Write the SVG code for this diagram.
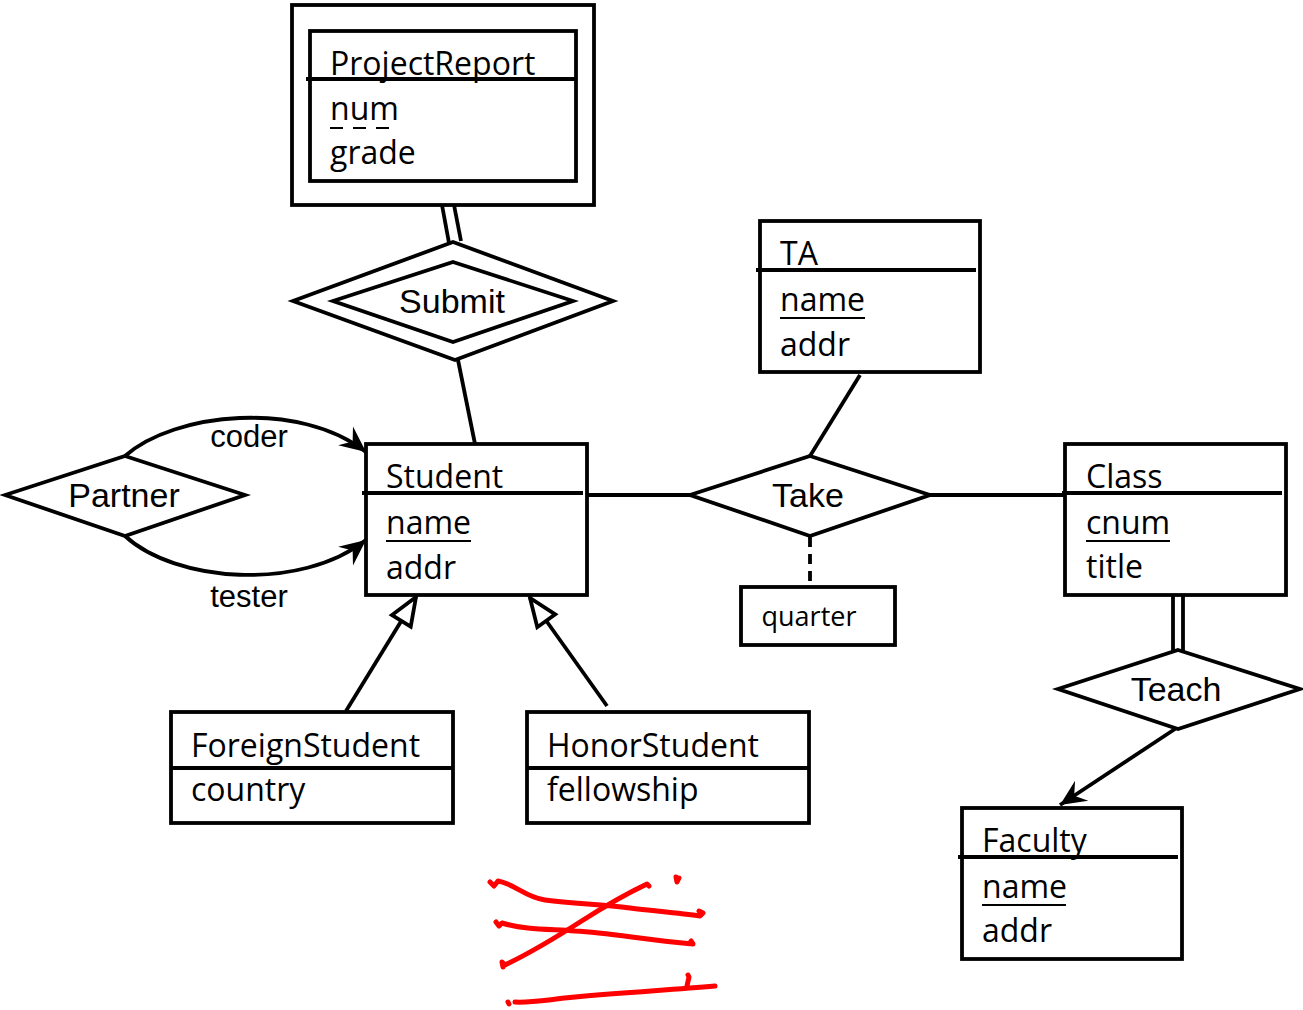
<svg xmlns="http://www.w3.org/2000/svg" width="1303" height="1010" viewBox="0 0 1303 1010">
<style>
.box{fill:none;stroke:#000;stroke-width:3.8}
.hdr{stroke:#000;stroke-width:3.8}
.ln{fill:none;stroke:#000;stroke-width:3.8}
.dia{fill:#fff;stroke:#000;stroke-width:3.8;stroke-linejoin:miter}
.et{font-family:"Open Sans","Noto Sans",sans-serif;font-size:32px;fill:#000}
.rt{font-family:"Liberation Sans",Arial,sans-serif;font-size:34px;fill:#000;text-anchor:middle}
.lt{font-family:"Liberation Sans",Arial,sans-serif;font-size:31px;fill:#000;text-anchor:middle}
.ul{stroke:#000;stroke-width:2}
.red{fill:none;stroke:#f00;stroke-width:5;stroke-linecap:round;stroke-linejoin:round}
</style>
<defs>
<marker id="arr" viewBox="-28 -14 30 28" refX="0" refY="0" markerWidth="30" markerHeight="28" markerUnits="userSpaceOnUse" orient="auto">
<path d="M0,0 L-26,-12 L-17,0 L-26,12 Z" fill="#000"/>
</marker>
<marker id="tri" viewBox="-32 -14 34 28" refX="0" refY="0" markerWidth="34" markerHeight="28" markerUnits="userSpaceOnUse" orient="auto">
<path d="M0,0 L-28,-11 L-28,11 Z" fill="#fff" stroke="#000" stroke-width="3.8" stroke-linejoin="miter"/>
</marker>
</defs>
<rect width="1303" height="1010" fill="#fff"/>

<g id="connectors">
<line class="ln" x1="442" y1="205" x2="449" y2="243"/>
<line class="ln" x1="454" y1="205" x2="461" y2="241"/>
<line class="ln" x1="458" y1="360" x2="475" y2="444"/>
<path class="ln" d="M125,456 C175,412 300,400 366,452" marker-end="url(#arr)"/>
<path class="ln" d="M125,536 C175,582 300,592 366,540" marker-end="url(#arr)"/>
<line class="ln" x1="587" y1="495" x2="690" y2="495"/>
<line class="ln" x1="930" y1="495" x2="1065" y2="495"/>
<line class="ln" x1="860" y1="375" x2="810" y2="456"/>
<line class="ln" x1="810" y1="537" x2="810" y2="586" stroke-dasharray="10,7"/>
<line class="ln" x1="1173" y1="595" x2="1173" y2="652"/>
<line class="ln" x1="1183" y1="595" x2="1183" y2="652"/>
<line class="ln" x1="1175" y1="729" x2="1060" y2="805" marker-end="url(#arr)"/>
<line class="ln" x1="346" y1="711" x2="416" y2="597" marker-end="url(#tri)"/>
<line class="ln" x1="607" y1="706" x2="530" y2="598" marker-end="url(#tri)"/>
<text class="lt" x="249" y="447">coder</text>
<text class="lt" x="249" y="607">tester</text>
</g>

<g id="ProjectReport">
<rect class="box" x="292" y="5" width="302" height="200"/>
<rect class="box" x="310" y="31" width="266" height="150"/>
<line class="hdr" x1="306" y1="79" x2="576" y2="79"/>
<text class="et" x="330" y="75">ProjectReport</text>
<text class="et" x="330" y="120">num</text>
<line class="ul" x1="330" y1="128" x2="392" y2="128" stroke-dasharray="13,10"/>
<text class="et" x="330" y="164">grade</text>
</g>

<g id="Submit">
<polygon class="dia" points="453,242 613,301 455,360 293,301"/>
<polygon class="dia" points="453,262 573,301 453,342 333,301"/>
<text class="rt" x="452" y="313">Submit</text>
</g>

<g id="Partner">
<polygon class="dia" points="125,456 245,495 125,536 5,495"/>
<text class="rt" x="124" y="507">Partner</text>
</g>

<g id="Student">
<rect class="box" x="366" y="444" width="221" height="151"/>
<line class="hdr" x1="362" y1="493" x2="583" y2="493"/>
<text class="et" x="386" y="488">Student</text>
<text class="et" x="386" y="534">name</text>
<line class="ul" x1="386" y1="541" x2="471" y2="541"/>
<text class="et" x="386" y="579">addr</text>
</g>

<g id="TA">
<rect class="box" x="760" y="221" width="220" height="151"/>
<line class="hdr" x1="756" y1="270" x2="976" y2="270"/>
<text class="et" x="780" y="265">TA</text>
<text class="et" x="780" y="311">name</text>
<line class="ul" x1="780" y1="318" x2="865" y2="318"/>
<text class="et" x="780" y="356">addr</text>
</g>

<g id="Take">
<polygon class="dia" points="810,456 930,495 810,536 690,495"/>
<text class="rt" x="808" y="507">Take</text>
</g>

<g id="quarter">
<rect class="box" x="741" y="587" width="154" height="58"/>
<text class="et" x="809" y="626" style="font-size:27px" text-anchor="middle">quarter</text>
</g>

<g id="Class">
<rect class="box" x="1065" y="444" width="221" height="151"/>
<line class="hdr" x1="1062" y1="493" x2="1282" y2="493"/>
<text class="et" x="1086" y="488">Class</text>
<text class="et" x="1086" y="534">cnum</text>
<line class="ul" x1="1086" y1="541" x2="1170" y2="541"/>
<text class="et" x="1086" y="578">title</text>
</g>

<g id="Teach">
<polygon class="dia" points="1178,650 1300,689 1178,729 1058,689"/>
<text class="rt" x="1176" y="701">Teach</text>
</g>

<g id="Faculty">
<rect class="box" x="962" y="808" width="220" height="151"/>
<line class="hdr" x1="958" y1="857" x2="1178" y2="857"/>
<text class="et" x="982" y="852">Faculty</text>
<text class="et" x="982" y="898">name</text>
<line class="ul" x1="982" y1="905" x2="1066" y2="905"/>
<text class="et" x="982" y="942">addr</text>
</g>

<g id="ForeignStudent">
<rect class="box" x="171" y="712" width="282" height="111"/>
<line class="hdr" x1="171" y1="768" x2="453" y2="768"/>
<text class="et" x="191" y="757">ForeignStudent</text>
<text class="et" x="191" y="801">country</text>
</g>

<g id="HonorStudent">
<rect class="box" x="527" y="712" width="282" height="111"/>
<line class="hdr" x1="527" y1="768" x2="809" y2="768"/>
<text class="et" x="547" y="757">HonorStudent</text>
<text class="et" x="547" y="801">fellowship</text>
</g>

<g id="scribble">
<path class="red" d="M490,882 L494,886 L498,881 C515,884 525,897 545,900 C575,904 600,904 630,908 C655,911 680,913 700,916 L703,913 L699,911"/>
<path class="red" d="M496,922 L499,926 L502,923 C525,930 550,929 575,931 C610,933 640,939 693,944 L691,941"/>
<path class="red" d="M503,967 L502,962 L505,965 C530,953 555,938 580,922 C605,906 630,892 647,884 L649,886"/>
<path class="red" d="M515,1002 C530,1003 545,1000 575,997 C630,992 670,990 715,986"/>
<path class="red" d="M687,986 L689,977 L688,975"/>
<path class="red" d="M676,877 L677,882 L679,878"/>
<path class="red" d="M508,1002 L509,1004"/>
</g>
</svg>
